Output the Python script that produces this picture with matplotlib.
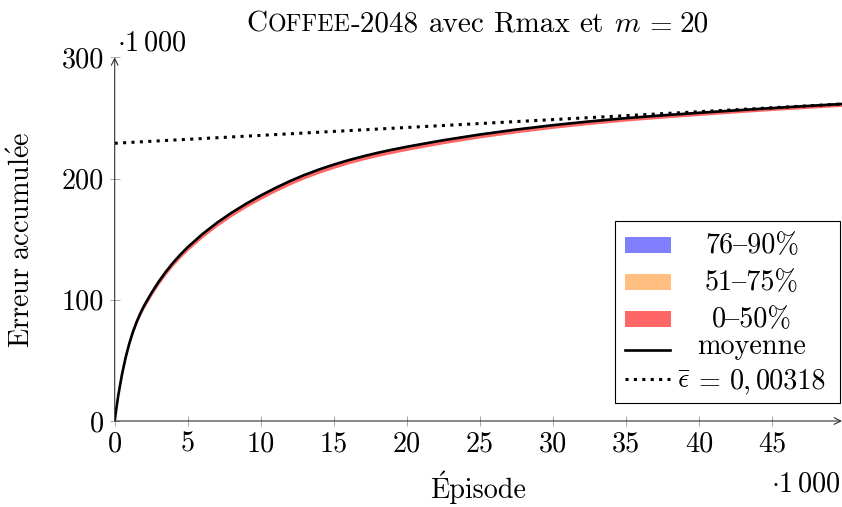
import matplotlib
matplotlib.use("Agg")
import matplotlib.pyplot as plt
from matplotlib.patches import Rectangle
from matplotlib.lines import Line2D

plt.rcParams['font.family'] = ['cmr10', 'DejaVu Serif']
plt.rcParams['mathtext.fontset'] = 'cm'
plt.rcParams['axes.formatter.use_mathtext'] = True
FS = 20.3

# ---------------- data (x in thousands of episodes, y in thousands) -----------
episodes = [0, 0.1, 0.25, 0.5, 0.75, 1, 1.25, 1.5, 1.75, 2, 2.5, 3, 3.5, 4,
            4.5, 5, 6, 7, 8, 9, 10, 11, 12, 13, 14, 15, 16, 17, 18, 19, 20,
            22.5, 25, 27.5, 30, 32.5, 35, 37.5, 40, 42.5, 45, 47.5, 49.8]
mean = [0, 9.2, 21.5, 38.5, 52.5, 64.0, 73.6, 81.7, 88.7, 94.8, 105.3, 114.7,
        123.1, 130.6, 137.3, 143.4, 154.1, 163.5, 171.8, 179.2, 186.0, 192.2,
        197.9, 203.0, 207.5, 211.5, 215.1, 218.3, 221.2, 223.8, 226.2,
        231.6, 236.3, 240.4, 244.0, 247.1, 249.8, 252.1, 254.2, 256.2,
        258.1, 259.9, 261.5]
# depth of the 0-50 % band below the mean, and heights of upper bands above it
depth_0_50 = [0, 0.3, 0.6, 1.0, 1.3, 1.5, 1.7, 1.9, 2.0, 2.1, 2.3, 2.4, 2.5,
              2.6, 2.7, 2.8, 2.9, 3.0, 3.0, 3.0, 3.1, 3.1, 3.1, 3.1, 3.1, 3.1,
              3.0, 3.0, 3.0, 3.0, 3.0, 2.9, 2.8, 2.7, 2.6, 2.5, 2.4, 2.3, 2.2,
              2.1, 2.0, 2.0, 2.0]
height_51_75 = [0, 0.1, 0.2, 0.3, 0.4, 0.4, 0.5, 0.5, 0.5, 0.5, 0.5, 0.5,
                0.5, 0.5, 0.5, 0.5, 0.5, 0.5, 0.5, 0.5, 0.5, 0.5, 0.5, 0.5,
                0.5, 0.5, 0.5, 0.5, 0.5, 0.5, 0.5, 0.5, 0.5, 0.5, 0.5, 0.5,
                0.5, 0.5, 0.5, 0.5, 0.5, 0.5, 0.5]
height_76_90 = [0, 0.2, 0.4, 0.6, 0.8, 0.9, 1.0, 1.1, 1.2, 1.2, 1.2, 1.2,
                1.2, 1.2, 1.2, 1.2, 1.2, 1.2, 1.2, 1.2, 1.2, 1.2, 1.2, 1.2,
                1.2, 1.2, 1.2, 1.2, 1.2, 1.2, 1.2, 1.2, 1.2, 1.2, 1.2, 1.2,
                1.2, 1.2, 1.2, 1.2, 1.2, 1.2, 1.2]
eps_x = [0, 49.8]
eps_y = [229.1, 261.5]

xticks = [0, 5, 10, 15, 20, 25, 30, 35, 40, 45]
yticks = [0, 100, 200, 300]

C_BLUE = '#8080ff'
C_ORANGE = '#ffbf80'
C_RED = '#ff6666'

W, H = 842, 507
fig = plt.figure(figsize=(W / 100, H / 100), dpi=100)
renderer = fig.canvas.get_renderer()
EM = FS * 100 / 72


def fx(px):
    return px / W


def fy(py):
    return 1 - py / H


def pieces_text(pieces, cx, base, **kw):
    """Place a sequence of (string, fontsize, gap_after) centred at cx."""
    objs = []
    total = 0
    for s, size, gap in pieces:
        t = fig.text(0, 0, s, fontsize=size, ha='left', va='baseline', **kw)
        w = t.get_window_extent(renderer).width
        objs.append((t, w, gap))
        total += w + gap
    total -= objs[-1][2]
    x = cx - total / 2
    for t, w, gap in objs:
        t.set_position((fx(x), fy(base)))
        x += w + gap
    return objs


ax = fig.add_axes([fx(114.7), fy(421), fx(842) - fx(114.7), fy(57.3) - fy(421)])
ax.set_xlim(0, 49.8)
ax.set_ylim(0, 300)

low = [m - d for m, d in zip(mean, depth_0_50)]
mid = [m + h for m, h in zip(mean, height_51_75)]
top = [m + h for m, h in zip(mean, height_76_90)]
ax.fill_between(episodes, mean, top, color=C_BLUE, lw=0)
ax.fill_between(episodes, mean, mid, color=C_ORANGE, lw=0)
ax.fill_between(episodes, low, mean, color=C_RED, lw=0)
ax.plot(episodes, mean, color='black', lw=1.9, solid_capstyle='round')
ax.plot(eps_x, eps_y, color='black', lw=2.2, linestyle=(0, (1, 1.75)))

for s in ax.spines.values():
    s.set_visible(False)
for tip in [(1, 0), (0, 1)]:
    ax.annotate('', xy=tip, xytext=(0, 0), xycoords='axes fraction',
                arrowprops=dict(arrowstyle='->', lw=0.8, color='#303030',
                                shrinkA=0, shrinkB=0, mutation_scale=12))

ax.set_xticks(xticks)
ax.set_xticklabels([str(v) for v in xticks])
ax.set_yticks(yticks)
ax.set_yticklabels([str(v) for v in yticks])
ax.tick_params(direction='inout', length=7, width=0.6, color='#999999',
               labelsize=FS, pad=4)

# axis labels (É built from cmr10 "E" plus its acute accent glyph)
xl = fig.text(fx(478), fy(498), "Episode", fontsize=FS, ha='center', va='baseline')
xl_box = xl.get_window_extent(renderer)
e_tmp = fig.text(0, 0, "E", fontsize=FS)
e_w = e_tmp.get_window_extent(renderer).width
e_tmp.remove()
fig.text(fx(xl_box.x0 + e_w / 2 + 1), fy(498 - 0.25 * EM), "\u00b6", fontsize=FS,
         ha='center', va='baseline')
fig.text(fx(22), fy(240), r"$\mathrm{Erreur\ accumul\acute{e}e}$", fontsize=FS,
         ha='center', va='center', rotation=90)
fig.text(fx(117), fy(50), r"$\cdot 1\,000$", fontsize=FS, ha='left', va='baseline')
fig.text(fx(840), fy(491), r"$\cdot 1\,000$", fontsize=FS, ha='right', va='baseline')

# title with small caps
TFS = 21
TEM = TFS * 100 / 72
pieces_text([("C", TFS, 0), ("OFFEE", TFS * 0.82, 0), ("-2048", TFS, 0.333 * TEM),
             ("avec", TFS, 0.333 * TEM), ("Rmax", TFS, 0.333 * TEM),
             ("et", TFS, 0.333 * TEM),
             (r"$m$", TFS, 0.278 * TEM - 5), (r"$=$", TFS, 0.278 * TEM), ("20", TFS, 0)],
            478, 32)

# legend (manual, pgfplots style)
box = Rectangle((fx(615), fy(403.3)), fx(840) - fx(615), fy(221) - fy(403.3),
                transform=fig.transFigure, facecolor='white', edgecolor='black',
                lw=0.8, zorder=5)
fig.add_artist(box)
rows = [245, 282, 319, 350, 379]
bases = [253.3, 290.3, 327.3, 354.3, 388.3]
for i, c in enumerate([C_BLUE, C_ORANGE, C_RED]):
    r = Rectangle((fx(625), fy(rows[i] + 7.7)), fx(671) - fx(625),
                  fy(rows[i] - 7.7) - fy(rows[i] + 7.7),
                  transform=fig.transFigure, facecolor=c, edgecolor='none', zorder=6)
    fig.add_artist(r)
fig.add_artist(Line2D([fx(625), fx(670)], [fy(rows[3])] * 2, transform=fig.transFigure,
                      color='black', lw=1.9, zorder=6))
fig.add_artist(Line2D([fx(625), fx(670)], [fy(rows[4])] * 2, transform=fig.transFigure,
                      color='black', lw=2.2, linestyle=(0, (1, 1.75)), zorder=6))
rel = 0.278 * EM
legend_labels = [[("76{90%", FS, 0)], [("51{75%", FS, 0)], [("0{50%", FS, 0)],
                 [("moyenne", FS, 0)],
                 [(r"$\bar{\epsilon}$", FS, rel - 5), (r"$=$", FS, rel),
                  ("0,", FS, 0.167 * EM), ("00318", FS, 0)]]
for lab, b in zip(legend_labels, bases):
    for t, w, g in pieces_text(lab, 752, b):
        t.set_zorder(7)

fig.savefig("out.png", dpi=100)
